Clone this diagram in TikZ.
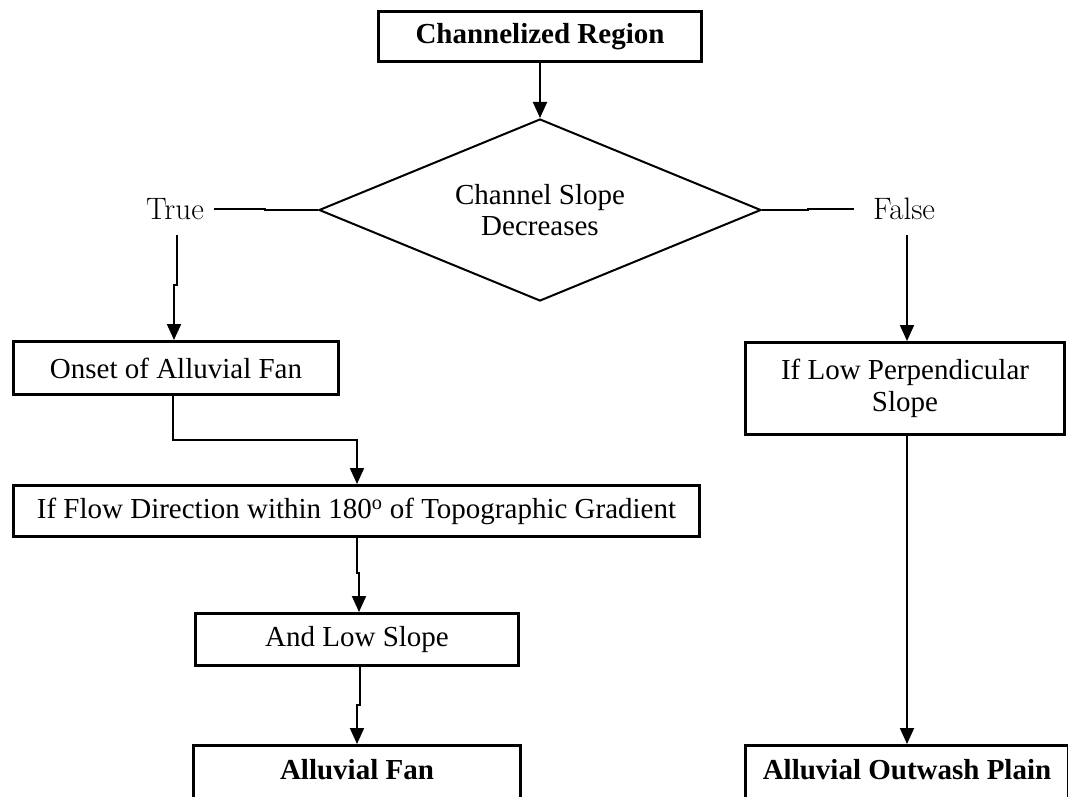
\documentclass[tikz,border=0pt]{standalone}
\usepackage{fontspec}
\newfontfamily\bxfont{Liberation Serif}
\usetikzlibrary{shapes.geometric,arrows.meta,calc}
\begin{document}
\begin{tikzpicture}[x=1pt,y=-1pt,
  box/.style={draw, line width=3pt, inner sep=0pt, align=center,
    font=\bxfont\fontsize{29}{32}\selectfont},
  lbl/.style={inner sep=0pt, minimum height=52pt,
    font=\fontsize{31}{36}\selectfont},
  ln/.style={line width=2pt},
  arr/.style={line width=2pt, -{Triangle[length=16pt,width=14pt]}}
]
\useasboundingbox (0,0) rectangle (1068,797);

\node[box, minimum width=323pt, minimum height=50pt] (top) at (540,36.5) {\bfseries Channelized Region};
\node[draw, diamond, line width=2pt, inner sep=0pt, aspect=2.4,
  minimum width=442pt, minimum height=182pt, align=center,
  font=\bxfont\fontsize{29}{31}\selectfont] (dia) at (540,210) {Channel Slope\\Decreases};
\node[lbl] (true) at (175,209) {True};
\node[lbl] (false) at (904,209) {False};
\node[box, minimum width=325pt, minimum height=53pt] (onset) at (176,368) {Onset of Alluvial Fan};
\node[box, minimum width=686pt, minimum height=51pt] (flow) at (356.5,511) {If Flow Direction within 180\textsuperscript{o} of Topographic Gradient};
\node[box, minimum width=323pt, minimum height=52pt] (andlow) at (357,639.5) {And Low Slope};
\node[box, minimum width=327pt, minimum height=56pt, text height=20pt, text depth=8pt] (fan) at (357,773.5) {\bfseries Alluvial Fan};
\node[box, minimum width=319pt, minimum height=92pt] (iflow) at (905,388.5) {If Low Perpendicular\\Slope};
\node[box, minimum width=323pt, minimum height=56pt, text height=20pt, text depth=8pt] (outwash) at (907,773.5) {\bfseries Alluvial Outwash Plain};

\draw[arr] (top.south) -- (dia.north);
\draw[ln] (dia.west) -- ++(-53,0) |- ([xshift=10pt]true.east);
\draw[ln] (dia.east) -- ++(46,0) |- ([xshift=-19pt]false.west);
\draw[arr] ([xshift=2pt]true.south) -- ++(0,50) -| ([xshift=-2pt]onset.north);
\draw[arr] ([xshift=3pt]false.south) -- ([xshift=2pt]iflow.north);
\draw[arr] ([xshift=-3pt]onset.south) -- ++(0,44) -| ([xshift=0.5pt]flow.north);
\draw[arr] ([xshift=0.5pt]flow.south) -- ++(0,35) -| ([xshift=2pt]andlow.north);
\draw[arr] ([xshift=3pt]andlow.south) -- ++(0,38) -| (fan.north);
\draw[arr] ([xshift=2pt]iflow.south) -- (outwash.north);
\end{tikzpicture}
\end{document}
